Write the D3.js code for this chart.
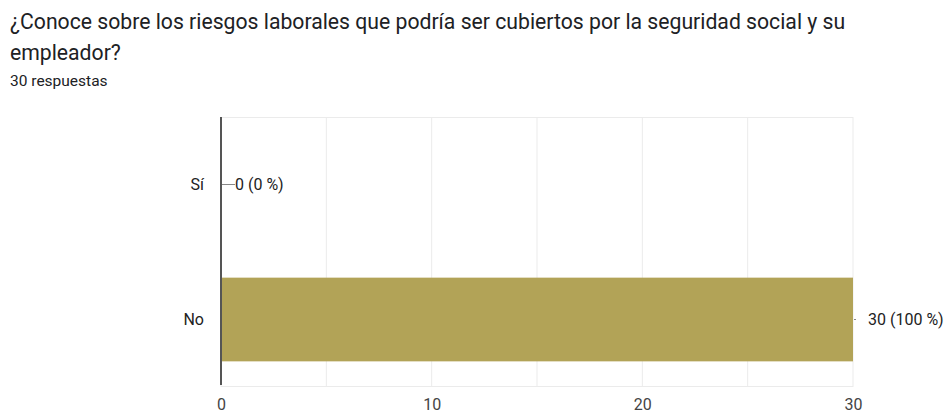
<!DOCTYPE html>
<html><head><meta charset="utf-8">
<script src="https://cdn.jsdelivr.net/npm/d3@7"></script>
<style>body{margin:0;background:#fff;font-family:Roboto,Arial,sans-serif;}</style>
</head><body>
<svg id="c" width="950" height="415"></svg>
<script>
const titleLines = ["¿Conoce sobre los riesgos laborales que podría ser cubiertos por la seguridad social y su", "empleador?"];
const subtitle = "30 respuestas";
const categories = ["Sí", "No"];
const values = [0, 30];
const labels = ["0 (0 %)", "30 (100 %)"];
const xTicks = [0, 10, 20, 30];
const gridTicks = [0, 5, 10, 15, 20, 25, 30];

const svg = d3.select("#c");
const m = {left: 221, right: 853, top: 117, bottom: 387};
const x = d3.scaleLinear().domain([0, 30]).range([m.left, m.right]);
const y = d3.scaleBand().domain(categories).range([m.top, m.bottom]).paddingInner(0.38).paddingOuter(0.19);

svg.selectAll("text.title").data(titleLines).join("text")
  .attr("x", 10).attr("y", (d,i)=>29+i*31).attr("font-size", 21.2).attr("fill", "#202124").text(d=>d);
svg.append("text").attr("x", 10).attr("y", 86).attr("font-size", 15.5).attr("fill", "#202124").text(subtitle);

svg.append("g").selectAll("line").data(gridTicks).join("line")
  .attr("x1", d=>x(d)).attr("x2", d=>x(d)).attr("y1", m.top).attr("y2", m.bottom)
  .attr("stroke", "#ebebeb").attr("stroke-width", 1);
svg.append("line").attr("x1", m.left).attr("x2", m.right).attr("y1", m.top+0.5).attr("y2", m.top+0.5).attr("stroke", "#ebebeb");
svg.append("line").attr("x1", m.left).attr("x2", m.right).attr("y1", m.bottom-0.5).attr("y2", m.bottom-0.5).attr("stroke", "#ebebeb");

svg.append("g").selectAll("rect").data(values).join("rect")
  .attr("x", x(0)).attr("y", (d,i)=>y(categories[i])).attr("width", d=>x(d)-x(0)).attr("height", y.bandwidth())
  .attr("fill", "#b2a357");

const xAxis = d3.axisBottom(x).tickValues(xTicks).tickSize(0).tickPadding(0);
const gx = svg.append("g").attr("transform", `translate(0,${m.bottom+12})`).call(xAxis);
gx.select(".domain").remove();
gx.selectAll("text").attr("font-size", 16).attr("fill", "#444").attr("font-family", "Roboto").attr("dy", "0.71em");

const yAxis = d3.axisLeft(y).tickSize(0).tickPadding(17);
const gy = svg.append("g").attr("transform", `translate(${m.left},0)`).call(yAxis);
gy.select(".domain").remove();
gy.selectAll("text").attr("font-size", 16).attr("fill", "#222").attr("font-family", "Roboto");

svg.append("line").attr("x1", m.left).attr("x2", m.left).attr("y1", m.top).attr("y2", m.bottom-2)
  .attr("stroke", "#555").attr("stroke-width", 2);

const lab = svg.append("g");
values.forEach((v,i)=>{
  const cy = y(categories[i]) + y.bandwidth()/2;
  const x0 = x(v);
  lab.append("line").attr("x1", x0+1).attr("x2", x0+(v===0?14:3)).attr("y1", cy).attr("y2", cy).attr("stroke", "#888").attr("stroke-width", 1);
  lab.append("text").attr("x", x0+(v===0?14:15)).attr("y", cy).attr("dy", "0.35em").attr("font-size", 16).attr("fill", "#222").text(labels[i]);
});
</script>
</body></html>
